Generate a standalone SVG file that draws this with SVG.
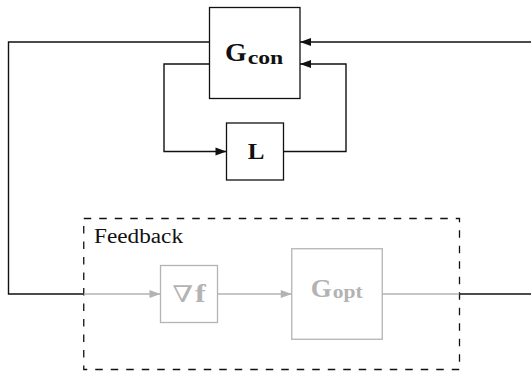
<svg xmlns="http://www.w3.org/2000/svg" width="531" height="371" viewBox="0 0 531 371">
<defs>
<style>
.box{fill:#fff;stroke:#111;stroke-width:1.3}
.gbox{fill:#fff;stroke:#b3b3b3;stroke-width:1.3}
.ln{fill:none;stroke:#111;stroke-width:1.4}
.gln{fill:none;stroke:#b3b3b3;stroke-width:1.4}
.dash{fill:none;stroke:#111;stroke-width:1.3;stroke-dasharray:7.5 8}
.lbl{font-family:"Liberation Serif","Times New Roman",serif;font-weight:bold;fill:#111}
.glbl{font-family:"Liberation Serif","Times New Roman",serif;font-weight:bold;fill:#b3b3b3}
.txt{font-family:"Liberation Serif","Times New Roman",serif;fill:#111}
</style>
<marker id="ah" markerUnits="userSpaceOnUse" markerWidth="11" markerHeight="8" refX="11" refY="4" orient="auto" overflow="visible">
<path d="M0,0 L11,4 L0,8 z" fill="#111"/>
</marker>
<marker id="gah" markerUnits="userSpaceOnUse" markerWidth="11" markerHeight="8" refX="11" refY="4" orient="auto" overflow="visible">
<path d="M0,0 L11,4 L0,8 z" fill="#b3b3b3"/>
</marker>
</defs>
<rect width="531" height="371" fill="#fff"/>

<g id="feedback">
<rect class="dash" x="83.75" y="218.5" width="375.75" height="151"/>
<text class="txt" x="94" y="243" font-size="20" textLength="89" lengthAdjust="spacingAndGlyphs">Feedback</text>
</g>

<g id="connectors">
<path class="ln" d="M532,42 L300,42" marker-end="url(#ah)"/>
<path class="ln" d="M209.5,42 L8.5,42 L8.5,294 L83.75,294"/>
<path class="ln" d="M209.5,64 L164,64 L164,151.5 L226.5,151.5" marker-end="url(#ah)"/>
<path class="ln" d="M283.5,151.5 L346,151.5 L346,64 L300,64" marker-end="url(#ah)"/>
<path class="gln" d="M83.75,294 L160.5,294" marker-end="url(#gah)"/>
<path class="gln" d="M217.5,294 L291.75,294" marker-end="url(#gah)"/>
<path class="gln" d="M382.25,294 L459.5,294"/>
<path class="ln" d="M459.5,294 L532,294"/>
</g>

<g id="gcon">
<rect class="box" x="209.5" y="7.5" width="90.5" height="91"/>
<text class="lbl" x="225" y="60.7" font-size="25" textLength="21.7" lengthAdjust="spacingAndGlyphs">G</text>
<text class="lbl" x="247.7" y="63.5" font-size="19" textLength="35.6" lengthAdjust="spacingAndGlyphs">con</text>
</g>

<g id="l">
<rect class="box" x="226.5" y="123" width="57" height="57"/>
<text class="lbl" x="247.7" y="159.3" font-size="24" textLength="16.7" lengthAdjust="spacingAndGlyphs">L</text>
</g>

<g id="grad">
<rect class="gbox" x="160.5" y="265.5" width="57" height="57"/>
<text x="172.3" y="301.7" font-family="'DejaVu Serif','Liberation Serif',serif" font-size="23" fill="#b3b3b3" textLength="21" lengthAdjust="spacingAndGlyphs">∇</text>
<text class="glbl" x="195" y="301.7" font-size="25" textLength="10.7" lengthAdjust="spacingAndGlyphs">f</text>
</g>

<g id="gopt">
<rect class="gbox" x="291.75" y="248.75" width="90.5" height="90.5"/>
<text class="glbl" x="310.7" y="296.7" font-size="25" textLength="21" lengthAdjust="spacingAndGlyphs">G</text>
<text class="glbl" x="332.7" y="298.3" font-size="19" textLength="30" lengthAdjust="spacingAndGlyphs">opt</text>
</g>
</svg>
